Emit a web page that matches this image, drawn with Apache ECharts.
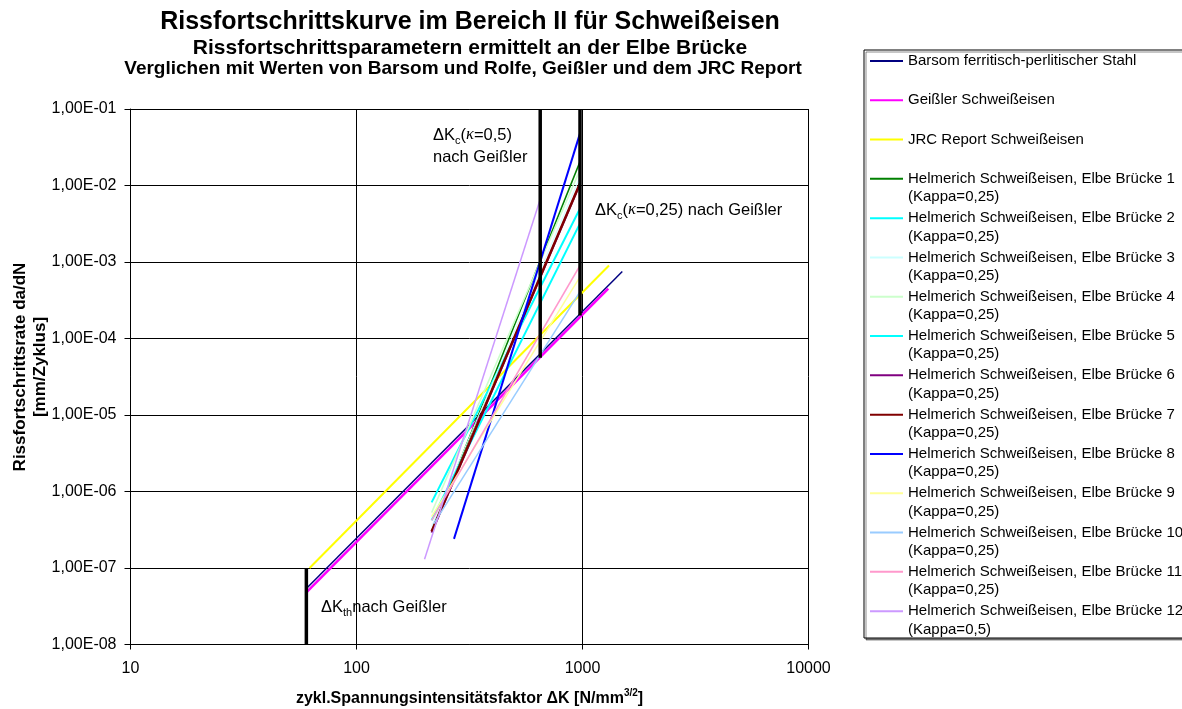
<!DOCTYPE html>
<html>
<head>
<meta charset="utf-8">
<title>Rissfortschrittskurve Schweißeisen</title>
<script src="https://cdn.jsdelivr.net/npm/echarts@6/dist/echarts.min.js"></script>
<style>
  html, body { margin: 0; padding: 0; background: #ffffff; }
  #chart { width: 1182px; height: 709px; }
</style>
</head>
<body>
<div id="chart"></div>
<script>
// Crack growth curves, region II (Paris law lines), ΔK in N/mm^3/2, da/dN in mm/cycle
const xTicks = [10, 100, 1000, 10000];
const yTicks = [1e-8, 1e-7, 1e-6, 1e-5, 1e-4, 1e-3, 1e-2, 1e-1];

const curveNames = [
  'Barsom ferritisch-perlitischer Stahl',
  'Geißler Schweißeisen',
  'JRC Report Schweißeisen',
  'Helmerich Schweißeisen, Elbe Brücke 1\n(Kappa=0,25)',
  'Helmerich Schweißeisen, Elbe Brücke 2\n(Kappa=0,25)',
  'Helmerich Schweißeisen, Elbe Brücke 3\n(Kappa=0,25)',
  'Helmerich Schweißeisen, Elbe Brücke 4\n(Kappa=0,25)',
  'Helmerich Schweißeisen, Elbe Brücke 5\n(Kappa=0,25)',
  'Helmerich Schweißeisen, Elbe Brücke 6\n(Kappa=0,25)',
  'Helmerich Schweißeisen, Elbe Brücke 7\n(Kappa=0,25)',
  'Helmerich Schweißeisen, Elbe Brücke 8\n(Kappa=0,25)',
  'Helmerich Schweißeisen, Elbe Brücke 9\n(Kappa=0,25)',
  'Helmerich Schweißeisen, Elbe Brücke 10\n(Kappa=0,25)',
  'Helmerich Schweißeisen, Elbe Brücke 11\n(Kappa=0,25)',
  'Helmerich Schweißeisen, Elbe Brücke 12\n(Kappa=0,5)'
];

// [ΔK, da/dN] end points of each straight line
const barsom   = [[60, 5.4e-8], [1500, 7.5e-4]];
const geissler = [[60, 4.8e-8], [1300, 4.5e-4]];
const jrc      = [[62, 1.0e-7], [1310, 9.0e-4]];
const elbe1  = [[215, 3.0e-7], [975, 2.05e-2]];
const elbe2  = [[215, 7.2e-7], [975, 5.0e-3]];
const elbe3  = [[215, 3.5e-7], [975, 1.3e-2]];
const elbe4  = [[215, 5.3e-7], [975, 1.6e-2]];
const elbe5  = [[215, 4.2e-7], [975, 3.2e-3]];
const elbe6  = [[215, 2.9e-7], [975, 1.05e-2]];
const elbe7  = [[215, 3.0e-7], [975, 1.07e-2]];
const elbe8  = [[270, 2.4e-7], [975, 4.8e-2]];
const elbe9  = [[215, 4.7e-7], [975, 6.4e-4]];
const elbe10 = [[220, 3.8e-7], [975, 4.1e-4]];
const elbe11 = [[215, 4.2e-7], [975, 9.0e-4]];
const elbe12 = [[200, 1.3e-7], [650, 6.6e-3]];

// Threshold and critical ΔK limits after Geißler
const dKth    = [[60, 1e-8], [60, 1e-7]];
const dKc05   = [[650, 5.6e-5], [650, 1e-1]];
const dKc025  = [[975, 2.0e-4], [975, 1e-1]];

const curves = [barsom, geissler, jrc, elbe1, elbe2, elbe3, elbe4, elbe5,
                elbe6, elbe7, elbe8, elbe9, elbe10, elbe11, elbe12];

const curveColors = ['#000080', '#ff00ff', '#ffff00', '#008000', '#00ffff', '#ccffff',
  '#ccffcc', '#00ffff', '#800080', '#800000', '#0000ff', '#ffff99', '#99ccff', '#ff99cc', '#cc99ff'];
const curveWidths = [1.5, 2.5, 2, 1.5, 2, 1, 1.5, 2, 2, 2.5, 2, 1.5, 1.5, 1.5, 1.5];

const FONT = "'Liberation Sans', Arial, sans-serif";

function sciLabel(v) {
  const e = Math.round(Math.log10(v));
  const a = Math.abs(e);
  return '1,00E' + (e < 0 ? '-' : '+') + (a < 10 ? '0' : '') + a;
}

const series = curves.map((pts, i) => ({
  name: curveNames[i],
  type: 'line',
  data: pts,
  symbol: 'none',
  showSymbol: false,
  silent: true,
  z: 2,
  lineStyle: { color: curveColors[i], width: curveWidths[i] },
  itemStyle: { color: curveColors[i] }
}));

[['ΔKth', dKth], ['ΔKc 0,5', dKc05], ['ΔKc 0,25', dKc025]].forEach(([name, pts]) => {
  series.push({
    name: name,
    type: 'line',
    data: pts,
    symbol: 'none',
    showSymbol: false,
    silent: true,
    z: 3,
    lineStyle: { color: '#000000', width: 3.5 },
    itemStyle: { color: '#000000' }
  });
});

const rich = {
  m: { fontFamily: FONT, fontSize: 16.5, color: '#000', lineHeight: 22 },
  s: { fontFamily: FONT, fontSize: 11, color: '#000', lineHeight: 12, verticalAlign: 'bottom' },
  k: { fontFamily: "'Liberation Serif', serif", fontStyle: 'italic', fontSize: 16.5, color: '#808080', lineHeight: 22 }
};

const chart = echarts.init(document.getElementById('chart'), null, { renderer: 'canvas' });

chart.setOption({
  animation: false,
  backgroundColor: '#ffffff',
  title: [
    { text: 'Rissfortschrittskurve im Bereich II für Schweißeisen', left: 470, top: 10, textAlign: 'center', padding: 0,
      textStyle: { fontFamily: FONT, fontSize: 25, fontWeight: 'bold', color: '#000' } },
    { text: 'Rissfortschrittsparametern ermittelt an der Elbe Brücke', left: 470, top: 38, textAlign: 'center', padding: 0,
      textStyle: { fontFamily: FONT, fontSize: 21, fontWeight: 'bold', color: '#000' } },
    { text: 'Verglichen mit Werten von Barsom und Rolfe, Geißler und dem JRC Report', left: 463, top: 59.5, textAlign: 'center', padding: 0,
      textStyle: { fontFamily: FONT, fontSize: 19, fontWeight: 'bold', color: '#000' } }
  ],
  grid: { left: 130.5, right: 373.5, top: 109, bottom: 64.5, containLabel: false, outerBoundsMode: 'none' },
  xAxis: {
    type: 'log', logBase: 10, min: xTicks[0], max: xTicks[xTicks.length - 1],
    name: '{b|zykl.Spannungsintensitätsfaktor ΔK [N/mm}{u|3/2}{b|]}',
    nameLocation: 'middle', nameGap: 44,
    nameTextStyle: {
      rich: {
        b: { fontFamily: FONT, fontSize: 16, fontWeight: 'bold', color: '#000', lineHeight: 20 },
        u: { fontFamily: FONT, fontSize: 10, fontWeight: 'bold', color: '#000', lineHeight: 10, verticalAlign: 'top' }
      }
    },
    axisLine: { show: true, lineStyle: { color: '#000', width: 1 } },
    axisTick: { show: true, inside: false, length: 5, lineStyle: { color: '#000' } },
    minorTick: { show: false },
    axisLabel: { fontFamily: FONT, fontSize: 16, color: '#000', margin: 16, formatter: v => String(Math.round(v)) },
    splitLine: { show: true, lineStyle: { color: '#000', width: 1 } }
  },
  yAxis: {
    type: 'log', logBase: 10, min: yTicks[0], max: yTicks[yTicks.length - 1],
    axisLine: { show: true, lineStyle: { color: '#000', width: 1 } },
    axisTick: { show: true, inside: false, length: 6, lineStyle: { color: '#000' } },
    minorTick: { show: false },
    axisLabel: { fontFamily: FONT, fontSize: 16, color: '#000', margin: 14, formatter: sciLabel },
    splitLine: { show: true, lineStyle: { color: '#000', width: 1 } }
  },
  legend: {
    orient: 'vertical',
    left: 870,
    top: 33.5,
    padding: 0,
    itemGap: -15.6,
    itemWidth: 33,
    itemHeight: 2,
    icon: 'rect',
    selectedMode: false,
    itemStyle: { borderWidth: 0 },
    textStyle: { fontFamily: FONT, fontSize: 15, color: '#000', lineHeight: 18.3 },
    formatter: name => (name.indexOf('\n') >= 0 ? ' \n' + name : ' \n' + name + '\n '),
    data: curveNames
  },
  graphic: [
    { type: 'rect', z: -1, silent: true,
      shape: { x: 864, y: 50, width: 340, height: 588 },
      style: { fill: '#ffffff', stroke: '#000000', lineWidth: 1,
               shadowColor: 'rgba(0,0,0,0.45)', shadowOffsetX: 2, shadowOffsetY: 2, shadowBlur: 0 } },
    // vertical axis title (two lines, rotated)
    { type: 'text', x: 30, y: 367, rotation: Math.PI / 2, silent: true, z: 10,
      style: { text: 'Rissfortschrittsrate da/dN\n[mm/Zyklus]', fontFamily: FONT, fontSize: 17, fontWeight: 'bold',
               fill: '#000', lineHeight: 20, align: 'center', verticalAlign: 'middle' } },
    { type: 'text', x: 433, y: 124, silent: true, z: 10,
      style: { text: '{m|ΔK}{s|c}{m|(}{k|κ}{m|=0,5)}\n{m|nach Geißler}', rich: rich, verticalAlign: 'top', align: 'left' } },
    { type: 'text', x: 595, y: 199, silent: true, z: 10,
      style: { text: '{m|ΔK}{s|c}{m|(}{k|κ}{m|=0,25) nach Geißler}', rich: rich, verticalAlign: 'top', align: 'left' } },
    { type: 'text', x: 321, y: 596, silent: true, z: 10,
      style: { text: '{m|ΔK}{s|th}{m|nach Geißler}', rich: rich, verticalAlign: 'top', align: 'left' } }
  ],
  series: series
});
</script>
</body>
</html>
